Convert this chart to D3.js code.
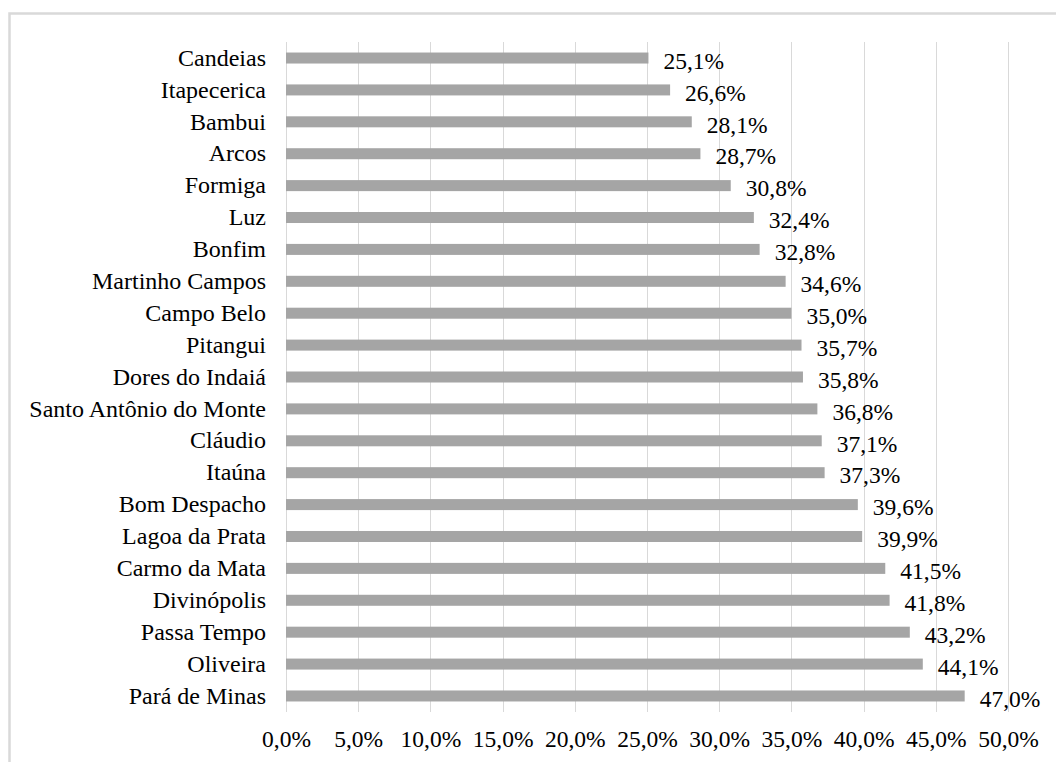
<!DOCTYPE html>
<html>
<head>
<meta charset="utf-8">
<script src="https://cdn.jsdelivr.net/npm/d3@7"></script>
<style>
  body { margin: 0; background: #fff; }
  text { font-family: 'Liberation Serif', serif; }
</style>
</head>
<body>
<div id="graf"></div>
<script>
// datos
municipios = ['Candeias', 'Itapecerica', 'Bambui', 'Arcos', 'Formiga', 'Luz', 'Bonfim',
  'Martinho Campos', 'Campo Belo', 'Pitangui', 'Dores do Indaiá', 'Santo Antônio do Monte',
  'Cláudio', 'Itaúna', 'Bom Despacho', 'Lagoa da Prata', 'Carmo da Mata', 'Divinópolis',
  'Passa Tempo', 'Oliveira', 'Pará de Minas']
valores = [25.1, 26.6, 28.1, 28.7, 30.8, 32.4, 32.8, 34.6, 35.0, 35.7, 35.8, 36.8,
  37.1, 37.3, 39.6, 39.9, 41.5, 41.8, 43.2, 44.1, 47.0]
ticksX = [0, 5, 10, 15, 20, 25, 30, 35, 40, 45, 50]

ancho_total = 1056
alto_total = 762
margins = { top: 42, left: 286, right: 48, bottom: 50 }
ancho = ancho_total - margins.left - margins.right
alto = alto_total - margins.top - margins.bottom
fuente = 'Liberation Serif'

fmt = v => v.toFixed(1).replace('.', ',') + '%'

svg = d3.select('#graf').append('svg')
  .attr('width', ancho_total)
  .attr('height', alto_total)
  .attr('font-family', fuente)

// borde del grafico
svg.append('rect')
  .attr('x', 9.5).attr('y', 13.5)
  .attr('width', 1060).attr('height', 800)
  .attr('fill', 'none')
  .attr('stroke', '#d9d9d9')
  .attr('stroke-width', 2.5)

g = svg.append('g')
  .attr('transform', `translate(${margins.left}, ${margins.top})`)

x = d3.scaleLinear().domain([0, 50]).range([0, ancho])
y = d3.scaleBand().domain(municipios).range([0, alto]).paddingInner(0.655).paddingOuter(0.33)

// lineas de cuadricula
g.selectAll('.grid')
  .data(ticksX)
  .enter().append('line')
  .attr('x1', d => Math.round(x(d)) + 0.5)
  .attr('x2', d => Math.round(x(d)) + 0.5)
  .attr('y1', 0).attr('y2', alto)
  .attr('stroke', '#d9d9d9')

// eje x
xAxis = g.append('g')
  .attr('transform', `translate(0, ${alto})`)
  .call(d3.axisBottom(x).tickValues(ticksX).tickFormat(d => fmt(d)).tickSize(0).tickPadding(18))
xAxis.attr('font-family', fuente).attr('font-size', 23.5)
xAxis.select('.domain').remove()
xAxis.selectAll('text')
  .attr('font-family', fuente)
  .attr('fill', '#000')

// eje y
yAxis = g.append('g')
  .call(d3.axisLeft(y).tickSize(0).tickPadding(20))
yAxis.attr('font-family', fuente).attr('font-size', 24)
yAxis.select('.domain').remove()
yAxis.selectAll('text')
  .attr('font-family', fuente)
  .attr('fill', '#000')

data = municipios.map((m, i) => ({ m: m, v: valores[i] }))

// barras
g.selectAll('.bar')
  .data(data)
  .enter().append('rect')
  .attr('x', x(0))
  .attr('y', d => y(d.m))
  .attr('width', d => x(d.v) - x(0))
  .attr('height', y.bandwidth())
  .attr('fill', '#a5a5a5')

// etiquetas de valor
g.selectAll('.lbl')
  .data(data)
  .enter().append('text')
  .attr('x', d => x(d.v) + 15)
  .attr('y', d => y(d.m) + y.bandwidth() / 2 + 2.5)
  .attr('dy', '0.35em')
  .attr('font-family', fuente)
  .attr('font-size', 23.5)
  .attr('fill', '#000')
  .text(d => fmt(d.v))
</script>
</body>
</html>
